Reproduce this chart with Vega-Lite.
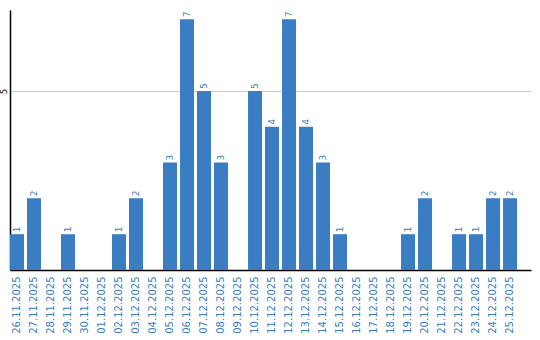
{
  "$schema": "https://vega.github.io/schema/vega-lite/v6.json",
  "width": 521,
  "height": 260,
  "autosize": {"type": "none"},
  "padding": {"left": 10, "top": 10, "right": 9, "bottom": 70},
  "background": "white",
  "config": {
    "view": {"stroke": null},
    "font": "DejaVu Sans"
  },
  "data": {
    "values": [
      {"date": "26.11.2025", "count": 1},
      {"date": "27.11.2025", "count": 2},
      {"date": "28.11.2025", "count": 0},
      {"date": "29.11.2025", "count": 1},
      {"date": "30.11.2025", "count": 0},
      {"date": "01.12.2025", "count": 0},
      {"date": "02.12.2025", "count": 1},
      {"date": "03.12.2025", "count": 2},
      {"date": "04.12.2025", "count": 0},
      {"date": "05.12.2025", "count": 3},
      {"date": "06.12.2025", "count": 7},
      {"date": "07.12.2025", "count": 5},
      {"date": "08.12.2025", "count": 3},
      {"date": "09.12.2025", "count": 0},
      {"date": "10.12.2025", "count": 5},
      {"date": "11.12.2025", "count": 4},
      {"date": "12.12.2025", "count": 7},
      {"date": "13.12.2025", "count": 4},
      {"date": "14.12.2025", "count": 3},
      {"date": "15.12.2025", "count": 1},
      {"date": "16.12.2025", "count": 0},
      {"date": "17.12.2025", "count": 0},
      {"date": "18.12.2025", "count": 0},
      {"date": "19.12.2025", "count": 1},
      {"date": "20.12.2025", "count": 2},
      {"date": "21.12.2025", "count": 0},
      {"date": "22.12.2025", "count": 1},
      {"date": "23.12.2025", "count": 1},
      {"date": "24.12.2025", "count": 2},
      {"date": "25.12.2025", "count": 2}
    ]
  },
  "encoding": {
    "x": {
      "field": "date",
      "type": "ordinal",
      "sort": null,
      "scale": {"paddingInner": 0.176, "paddingOuter": 0.41, "align": 0},
      "axis": {
        "title": null,
        "labelAngle": -90,
        "labelAlign": "right",
        "labelBaseline": "middle",
        "labelColor": "#3a7dc2",
        "labelFontSize": 10,
        "labelPadding": 6,
        "ticks": false,
        "domainColor": "#000000",
        "domainWidth": 1.5
      }
    },
    "y": {
      "field": "count",
      "type": "quantitative",
      "scale": {"domain": [0, 7.26], "nice": false},
      "axis": {
        "title": null,
        "values": [5],
        "ticks": false,
        "grid": true,
        "gridColor": "#cccccc",
        "gridWidth": 1,
        "domainColor": "#000000",
        "domainWidth": 1.5,
        "labelAngle": -90,
        "labelAlign": "center",
        "labelBaseline": "bottom",
        "labelFontSize": 8,
        "labelColor": "#000000",
        "labelPadding": 2
      }
    }
  },
  "layer": [
    {
      "mark": {"type": "bar", "color": "#3b7dc3"}
    },
    {
      "transform": [{"filter": "datum.count > 0"}],
      "mark": {
        "type": "text",
        "angle": -90,
        "align": "left",
        "baseline": "middle",
        "dx": 2,
        "fontSize": 9,
        "color": "#3a7dc2"
      },
      "encoding": {
        "text": {"field": "count", "type": "quantitative"}
      }
    }
  ]
}
